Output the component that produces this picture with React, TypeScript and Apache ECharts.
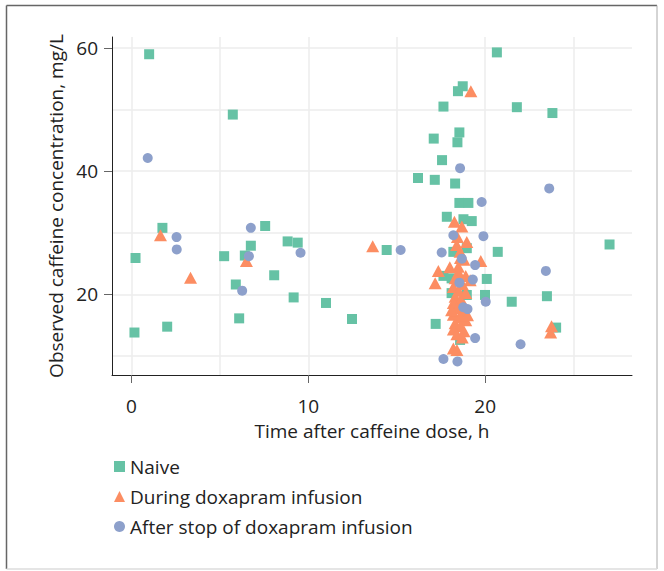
import React, { useEffect, useRef } from "react";
import * as echarts from "echarts";

const FONT = "'Open Sans', 'Noto Sans', sans-serif";

const seriesNames = ["Naive", "During doxapram infusion", "After stop of doxapram infusion"];
const seriesColors = ["#66c2a5", "#fc8d62", "#8da0cb"];

const xTickLabels = [0, 10, 20];
const yTickLabels = [20, 40, 60];

// [time after dose (h), concentration (mg/L)]
const naive: [number, number][] = [
  [1.0, 59.0], [5.73, 49.2], [1.75, 30.8], [0.23, 25.9], [0.17, 13.8], [2.02, 14.75],
  [7.56, 31.1], [6.75, 27.9], [5.24, 26.2], [6.41, 26.3], [8.07, 23.1], [8.83, 28.6],
  [9.4, 28.4], [5.9, 21.6], [9.17, 19.5], [6.09, 16.1], [11.0, 18.6], [12.47, 16.0],
  [14.43, 27.2], [16.2, 38.9], [17.09, 45.3], [17.15, 38.6], [17.2, 15.2], [20.66, 59.3],
  [18.73, 53.8], [18.46, 53.0], [17.64, 50.5], [21.79, 50.4], [18.54, 46.3], [18.43, 44.7],
  [17.56, 41.8], [18.3, 38.0], [18.54, 34.85], [19.05, 34.85], [17.83, 32.6], [18.77, 32.2],
  [19.24, 31.9], [20.71, 26.9], [18.2, 26.9], [18.96, 27.5], [17.64, 23.0], [20.09, 22.5],
  [18.1, 22.6], [18.1, 20.2], [18.96, 19.9], [19.99, 19.9], [21.5, 18.8], [18.58, 12.6],
  [23.8, 49.45], [27.03, 28.1], [23.49, 19.7], [24.01, 14.6],
];

const during: [number, number][] = [
  [1.64, 29.6], [3.34, 22.7], [6.5, 25.4], [13.64, 27.8], [19.19, 53.0], [18.26, 31.8],
  [18.68, 31.0], [18.43, 29.3], [18.96, 28.5], [18.39, 28.0], [18.58, 26.9], [19.75, 25.4],
  [18.6, 25.9], [18.8, 25.6], [17.35, 23.8], [18.0, 24.4], [18.48, 24.5], [17.17, 21.8],
  [19.15, 22.3], [18.2, 21.2], [18.2, 11.2], [18.4, 10.95], [23.75, 14.8], [23.7, 13.8],
  [18.5, 23.5], [18.9, 23.0], [18.3, 22.6], [18.7, 21.7], [18.5, 20.6], [18.9, 20.2],
  [18.3, 19.6], [18.6, 19.1], [18.2, 18.6], [18.8, 18.3], [18.4, 17.8], [18.7, 17.2],
  [18.2, 16.7], [18.6, 16.3], [18.9, 15.8], [18.3, 15.3], [18.6, 14.8], [18.2, 14.3],
  [18.8, 14.0], [18.4, 13.5], [18.7, 13.0], [19.0, 16.6], [18.1, 17.4],
];

const after: [number, number][] = [
  [0.92, 42.15], [2.55, 29.3], [2.56, 27.3], [6.75, 30.8], [6.64, 26.2], [9.56, 26.75],
  [6.26, 20.6], [15.22, 27.2], [18.58, 40.5], [19.8, 35.0], [18.2, 29.6], [19.9, 29.45],
  [17.54, 26.8], [19.43, 24.75], [18.68, 25.8], [19.3, 22.4], [18.54, 21.9], [20.03, 18.8],
  [18.76, 17.9], [19.0, 17.6], [19.43, 12.9], [17.64, 9.5], [18.43, 9.1], [22.0, 11.9],
  [23.62, 37.2], [23.43, 23.8],
];

const X_MIN = -1.1;
const X_MAX = 28.3;
const Y_MIN = 6.9;
const Y_MAX = 61.8;

export default function App() {
  const ref = useRef<HTMLDivElement>(null);
  useEffect(() => {
    if (!ref.current) return;
    const chart = echarts.init(ref.current, undefined, { renderer: "svg" });
    const axisText = { fontSize: 19, color: "#222", fontFamily: FONT };
    const gridLine = { show: true, showMinLine: false, showMaxLine: false, lineStyle: { color: "#ececec", width: 1.5 } };
    chart.setOption({
      animation: false,
      textStyle: { fontFamily: FONT },
      grid: { left: 112, top: 37, right: 32, bottom: 196, containLabel: false },
      xAxis: [
        {
          type: "value",
          min: X_MIN,
          max: X_MAX,
          name: "Time after caffeine dose, h",
          nameLocation: "middle",
          nameGap: 46,
          nameTextStyle: axisText,
          axisLine: { show: true, onZero: false, lineStyle: { color: "#222", width: 1 } },
          axisTick: { show: true, length: 8, customValues: xTickLabels, lineStyle: { color: "#666" } },
          axisLabel: { customValues: xTickLabels, margin: 21, ...axisText },
          splitLine: { show: false },
          z: 3,
        },
        {
          type: "value",
          position: "bottom",
          min: X_MIN,
          max: X_MAX,
          splitNumber: 6,
          axisLine: { show: false },
          axisTick: { show: false },
          axisLabel: { show: false },
          splitLine: gridLine,
        },
      ],
      yAxis: [
        {
          type: "value",
          min: Y_MIN,
          max: Y_MAX,
          name: "Observed caffeine concentration, mg/L",
          nameLocation: "middle",
          nameGap: 46,
          nameTextStyle: axisText,
          axisLine: { show: true, onZero: false, lineStyle: { color: "#222", width: 1 } },
          axisTick: { show: true, length: 8, customValues: yTickLabels, lineStyle: { color: "#666" } },
          axisLabel: { customValues: yTickLabels, margin: 14, ...axisText },
          splitLine: { show: false },
          z: 3,
        },
        {
          type: "value",
          position: "left",
          min: Y_MIN,
          max: Y_MAX,
          splitNumber: 5,
          axisLine: { show: false },
          axisTick: { show: false },
          axisLabel: { show: false },
          splitLine: gridLine,
        },
      ],
      legend: {
        orient: "vertical",
        left: 114,
        top: 457,
        padding: 0,
        itemWidth: 11,
        itemHeight: 11,
        itemGap: 11,
        textStyle: { fontSize: 19, color: "#222", fontFamily: FONT },
        data: [
          { name: seriesNames[0], icon: "rect" },
          { name: seriesNames[1], icon: "triangle" },
          { name: seriesNames[2], icon: "circle" },
        ],
      },
      graphic: [
        { type: "line", shape: { x1: 6.5, y1: 5.5, x2: 6.5, y2: 569 }, style: { stroke: "#666", lineWidth: 1.5 } },
        { type: "line", shape: { x1: 6.5, y1: 5.5, x2: 657, y2: 5.5 }, style: { stroke: "#666", lineWidth: 1.5 } },
        { type: "line", shape: { x1: 657, y1: 5.5, x2: 657, y2: 569 }, style: { stroke: "#aaa", lineWidth: 1 } },
        { type: "line", shape: { x1: 6.5, y1: 569, x2: 657, y2: 569 }, style: { stroke: "#ddd", lineWidth: 1.5 } },
      ],
      series: [
        { name: seriesNames[0], type: "scatter", symbol: "rect", symbolSize: 10, data: naive, itemStyle: { color: seriesColors[0], opacity: 1 } },
        { name: seriesNames[1], type: "scatter", symbol: "triangle", symbolSize: [13, 12], data: during, itemStyle: { color: seriesColors[1], opacity: 1 } },
        { name: seriesNames[2], type: "scatter", symbol: "circle", symbolSize: 10, data: after, itemStyle: { color: seriesColors[2], opacity: 1 } },
      ],
    });
    return () => chart.dispose();
  }, []);
  return (
    <div
      ref={ref}
      style={{ position: "absolute", left: 0, top: 0, width: 664, height: 571, background: "#fff" }}
    />
  );
}
